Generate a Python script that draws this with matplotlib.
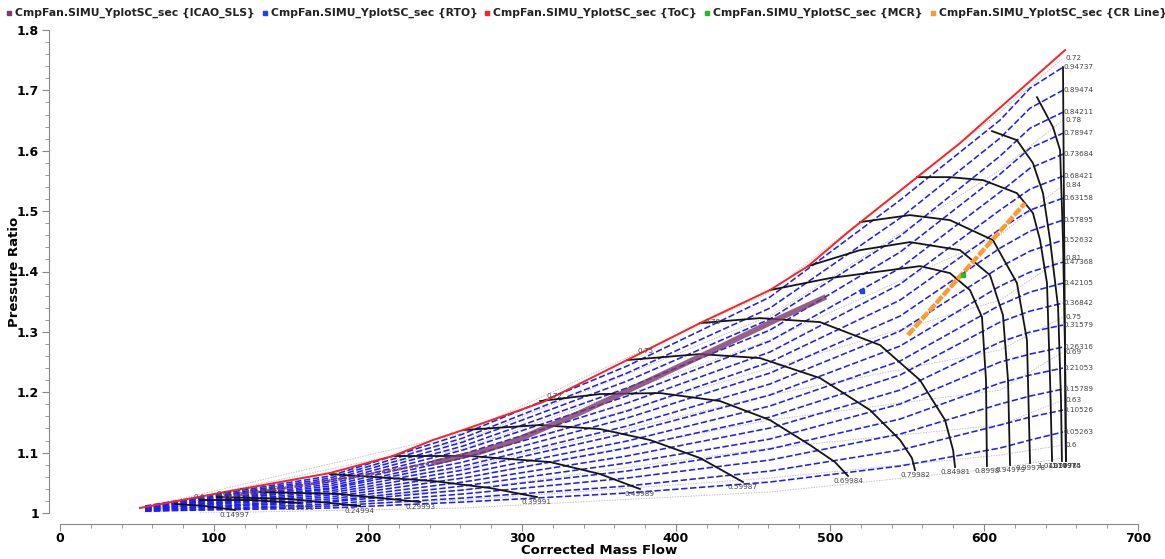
import matplotlib
matplotlib.use('Agg')
import matplotlib.pyplot as plt
from matplotlib.lines import Line2D
from matplotlib.ticker import MultipleLocator, FuncFormatter

# ---------------- data ----------------
legend_names = ['CmpFan.SIMU_YplotSC_sec {ICAO_SLS}', 'CmpFan.SIMU_YplotSC_sec {RTO}',
                'CmpFan.SIMU_YplotSC_sec {ToC}', 'CmpFan.SIMU_YplotSC_sec {MCR}',
                'CmpFan.SIMU_YplotSC_sec {CR Line}']
legend_colors = ['#7B3A6B', '#1F3FFF', '#FF2020', '#22BB22', '#FF9A2E']

# surge line (red)
surge_flow = [51.9, 110.4, 175.3, 216.2, 242.2, 261.7, 313.6, 368.2, 415.6, 461.0, 485.7, 511.7, 584.4, 652.6]
surge_pr = [1.0083, 1.0364, 1.0662, 1.0944, 1.1209, 1.1374, 1.1838, 1.2533, 1.3146, 1.3692, 1.4089, 1.4652, 1.6126, 1.7666]

# speed lines (black)
speed_labels = ['0.14997', '0.19996', '0.24994', '0.29993', '0.39991', '0.49989', '0.59987', '0.69984',
                '0.79982', '0.84981', '0.8998', '0.94979', '0.99978', '1.04977', '1.09976', '1.14975', '1.19974']
speed_flow = [
    [74.7, 94.2, 113.6],
    [90.9, 123.4, 155.8],
    [101.9, 149.4, 194.8],
    [129.9, 181.8, 233.8],
    [175.3, 242.2, 279.2, 309.7],
    [216.2, 266.2, 318.2, 350.6, 376.6],
    [261.7, 311.7, 350.6, 383.1, 415.6, 443.5],
    [311.7, 350.6, 389.6, 428.6, 461.0, 487.0, 503.2, 511.7],
    [368.2, 415.6, 454.5, 493.5, 526.0, 545.5, 553.2, 555.2],
    [415.6, 454.5, 493.5, 532.5, 558.4, 574.7, 579.9, 581.2],
    [461.0, 500.0, 539.0, 558.4, 577.9, 590.9, 598.7, 601.3, 601.9],
    [485.7, 519.5, 551.9, 584.4, 603.9, 612.3, 615.6, 616.9],
    [519.5, 551.9, 577.9, 605.8, 621.4, 627.9, 629.9],
    [556.5, 577.9, 599.4, 621.4, 631.8, 636.4, 640.9, 642.9, 644.2],
    [605.2, 621.4, 631.8, 638.3, 642.9, 648.1, 650.0, 650.6],
    [634.4, 644.8, 649.4, 651.3, 652.6, 653.2],
    [651.3, 651.9, 652.6, 653.2],
]
speed_pr = [
    [1.0149, 1.0116, 1.0050],
    [1.0215, 1.0215, 1.0166],
    [1.0265, 1.0232, 1.0116],
    [1.0348, 1.0315, 1.0182],
    [1.0646, 1.0530, 1.0414, 1.0265],
    [1.0944, 1.0944, 1.0844, 1.0646, 1.0397],
    [1.1374, 1.1457, 1.1391, 1.1209, 1.0911, 1.0513],
    [1.1854, 1.1970, 1.1987, 1.1854, 1.1540, 1.1126, 1.0844, 1.0613],
    [1.2533, 1.2632, 1.2566, 1.2235, 1.1705, 1.1209, 1.0911, 1.0712],
    [1.3146, 1.3228, 1.3162, 1.2781, 1.2202, 1.1540, 1.1043, 1.0762],
    [1.3692, 1.3891, 1.4023, 1.4089, 1.3974, 1.3692, 1.3245, 1.2202, 1.0778],
    [1.4089, 1.4354, 1.4487, 1.4354, 1.3940, 1.3278, 1.2202, 1.0795],
    [1.4818, 1.4934, 1.4851, 1.4520, 1.3808, 1.2864, 1.0828],
    [1.5563, 1.5563, 1.5513, 1.5298, 1.4967, 1.4520, 1.3808, 1.2202, 1.0861],
    [1.6325, 1.6175, 1.5795, 1.5298, 1.4520, 1.3411, 1.1871, 1.0861],
    [1.6887, 1.6391, 1.6010, 1.4520, 1.2699, 1.0861],
    [1.7384, 1.5182, 1.2699, 1.0861],
]

# beta lines (blue dashed): PR read at common mass-flow stations
beta_labels = ['0.94737', '0.89474', '0.84211', '0.78947', '0.73684', '0.68421', '0.63158', '0.57895', '0.52632',
               '0.47368', '0.42105', '0.36842', '0.31579', '0.26316', '0.21053', '0.15789', '0.10526', '0.05263']
beta_flow = [55.2, 175.3, 261.7, 368.2, 461.0, 545.5, 610.4, 629.9, 651.3]
beta_pr = [
    [1.0116, 1.0613, 1.1308, 1.2434, 1.3576, 1.5182, 1.6507, 1.7036, 1.7384],
    [1.0099, 1.0579, 1.1242, 1.2318, 1.3394, 1.4884, 1.6209, 1.6705, 1.7003],
    [1.0099, 1.0546, 1.1175, 1.2185, 1.3212, 1.4586, 1.5911, 1.6374, 1.6639],
    [1.0099, 1.0513, 1.1109, 1.2070, 1.3030, 1.4321, 1.5613, 1.6043, 1.6291],
    [1.0083, 1.0480, 1.1043, 1.1937, 1.2848, 1.4056, 1.5315, 1.5712, 1.5944],
    [1.0083, 1.0447, 1.0977, 1.1821, 1.2666, 1.3791, 1.5017, 1.5364, 1.5579],
    [1.0083, 1.0414, 1.0911, 1.1689, 1.2500, 1.3526, 1.4702, 1.5017, 1.5215],
    [1.0083, 1.0397, 1.0844, 1.1573, 1.2318, 1.3262, 1.4387, 1.4669, 1.4851],
    [1.0066, 1.0364, 1.0778, 1.1440, 1.2136, 1.3013, 1.4073, 1.4338, 1.4520],
    [1.0066, 1.0331, 1.0712, 1.1325, 1.1954, 1.2765, 1.3758, 1.3990, 1.4156],
    [1.0066, 1.0298, 1.0646, 1.1192, 1.1772, 1.2517, 1.3444, 1.3659, 1.3808],
    [1.0066, 1.0265, 1.0579, 1.1076, 1.1589, 1.2285, 1.3162, 1.3344, 1.3477],
    [1.0050, 1.0232, 1.0513, 1.0944, 1.1407, 1.2036, 1.2831, 1.2997, 1.3113],
    [1.0050, 1.0199, 1.0447, 1.0828, 1.1225, 1.1805, 1.2500, 1.2632, 1.2748],
    [1.0050, 1.0182, 1.0381, 1.0695, 1.1060, 1.1556, 1.2152, 1.2285, 1.2401],
    [1.0033, 1.0149, 1.0315, 1.0579, 1.0877, 1.1308, 1.1805, 1.1937, 1.2053],
    [1.0033, 1.0116, 1.0248, 1.0447, 1.0695, 1.1043, 1.1457, 1.1589, 1.1705],
    [1.0033, 1.0083, 1.0182, 1.0331, 1.0513, 1.0778, 1.1076, 1.1209, 1.1341],
]

# faint grey dotted lines (efficiency) with labels
eff_labels = ['0.72', '0.78', '0.84', '0.81', '0.75', '0.69', '0.63', '0.6', '']
eff_flow = [
    [55.2, 261.7, 461.0, 610.4, 651.3],
    [55.2, 261.7, 461.0, 610.4, 651.3],
    [55.2, 261.7, 461.0, 610.4, 651.3],
    [55.2, 261.7, 461.0, 610.4, 651.3],
    [55.2, 261.7, 461.0, 610.4, 651.3],
    [55.2, 261.7, 461.0, 610.4, 651.3],
    [55.2, 261.7, 461.0, 610.4, 651.3],
    [55.2, 261.7, 461.0, 610.4, 651.3],
    [90.9, 261.7, 461.0, 610.4, 651.3],
]
eff_pr = [
    [1.0099, 1.1325, 1.3659, 1.6639, 1.7533],
    [1.0083, 1.1192, 1.3262, 1.5679, 1.6507],
    [1.0083, 1.1060, 1.2864, 1.4603, 1.5430],
    [1.0066, 1.0911, 1.2401, 1.3526, 1.4222],
    [1.0050, 1.0745, 1.1954, 1.2699, 1.3245],
    [1.0050, 1.0579, 1.1540, 1.2036, 1.2666],
    [1.0033, 1.0381, 1.1076, 1.1457, 1.1871],
    [1.0017, 1.0215, 1.0579, 1.0960, 1.1126],
    [1.0000, 1.0083, 1.0348, 1.0745, 1.0911],
]
surge_eff_text = ['0.6', '0.63', '0.66', '0.69', '0.72', '0.75', '0.78']
surge_eff_flow = [86.4, 101.9, 115.6, 131.8, 316.2, 374.7, 418.8]
surge_eff_pr = [1.0215, 1.0265, 1.0315, 1.0348, 1.1887, 1.2632, 1.3113]

# operating lines / points
icao_flow = [105.8, 155.8, 209.7, 242.2, 272.7, 296.8, 337.7, 383.1, 428.6, 467.5, 497.4]
icao_pr = [1.026, 1.045, 1.068, 1.083, 1.101, 1.121, 1.166, 1.220, 1.275, 1.323, 1.358]
cr_flow = [550.6, 626.6]
cr_pr = [1.2947, 1.5132]
rto_flow = [520.8]
rto_pr = [1.3675]
mcr_flow = [586.4]
mcr_pr = [1.3940]

# ---------------- figure ----------------
fig = plt.figure(figsize=(11.65, 5.59), dpi=100)
ax = fig.add_axes([60 / 1165, 46 / 559, 1078 / 1165, 483 / 559])
ax.set_xlim(0, 700)
ax.set_ylim(1.0, 1.8)

small = dict(fontsize=5.2, color='#444444', family='DejaVu Sans')

for fl, pr, lab in zip(eff_flow, eff_pr, eff_labels):
    ax.plot(fl, pr, color='#c4c4c4', lw=0.7, ls=(0, (1.5, 1.2)), zorder=1)
    if lab:
        ax.text(fl[-1] + 1.5, pr[-1], lab, ha='left', va='center', zorder=6, **small)
for t, fl, pr in zip(surge_eff_text, surge_eff_flow, surge_eff_pr):
    ax.text(fl, pr, t, ha='left', va='bottom', zorder=6, **small)

for pr, lab in zip(beta_pr, beta_labels):
    ax.plot(beta_flow, pr, color='#2020EE', lw=1.15, ls=(0, (4, 1.6)), zorder=2)
    ax.text(beta_flow[-1] + 0.5, pr[-1], lab, ha='left', va='center', zorder=6, **small)

for fl, pr, lab in zip(speed_flow, speed_pr, speed_labels):
    ax.plot(fl, pr, color='#141414', lw=1.3, zorder=3)
    ax.text(fl[-1], pr[-1] - 0.004, lab, ha='center', va='top', zorder=6, **small)

ax.plot(surge_flow, surge_pr, color='#FF2020', lw=1.4, zorder=4)

ax.plot(icao_flow[:4], icao_pr[:4], color='#7B3A6B', lw=2.0, ls=(0, (1.2, 0.8)), alpha=0.85, zorder=5)
ax.plot(icao_flow[3:], icao_pr[3:], color='#7B3A6B', lw=4.0, alpha=0.8, solid_capstyle='butt', zorder=5)
ax.plot(cr_flow, cr_pr, color='#FF9A2E', lw=3.2, ls=(0, (2.0, 0.4)), zorder=5)
ax.plot(rto_flow, rto_pr, 's', color='#1F3FFF', ms=2.5, zorder=6)
ax.plot(mcr_flow, mcr_pr, 's', color='#22BB22', ms=2.5, zorder=6)

# axes styling
for s in ['top', 'right']:
    ax.spines[s].set_visible(False)
for s in ['left', 'bottom']:
    ax.spines[s].set_position(('outward', 8))
    ax.spines[s].set_color('#888888')
ax.xaxis.set_major_locator(MultipleLocator(100))
ax.xaxis.set_minor_locator(MultipleLocator(20))
ax.yaxis.set_major_locator(MultipleLocator(0.1))
ax.yaxis.set_minor_locator(MultipleLocator(0.02))
ax.tick_params(which='major', length=5, color='#888888', labelsize=9, pad=2)
ax.tick_params(axis='x', which='major', pad=1)
ax.tick_params(which='minor', length=3, color='#888888')
ax.yaxis.set_major_formatter(FuncFormatter(lambda v, p: f'{v:g}'))
for lbl in ax.get_xticklabels() + ax.get_yticklabels():
    lbl.set_fontweight('bold')
ax.set_xlabel('Corrected Mass Flow', fontsize=9.5, fontweight='bold', va='center')
ax.set_ylabel('Pressure Ratio', fontsize=9.5, fontweight='bold', va='center')
ax.xaxis.set_label_coords(0.5, (513 - 550) / 483)
ax.yaxis.set_label_coords((15 - 60) / 1078, 0.5)

# legend across the top
fig.canvas.draw()
r = fig.canvas.get_renderer()
xpx = 7.0
ypos = 1 - 13 / 559
for name, col in zip(legend_names, legend_colors):
    fig.add_artist(Line2D([(xpx + 2) / 1165], [ypos], marker='s', ms=3.2, color=col, lw=0,
                          transform=fig.transFigure))
    t = fig.text((xpx + 8) / 1165, ypos, name, fontsize=7.8, fontweight='bold', va='center', ha='left',
                 color='#222222')
    w = t.get_window_extent(r).width
    xpx += 8 + w + 8

fig.savefig('out.png', dpi=100)
